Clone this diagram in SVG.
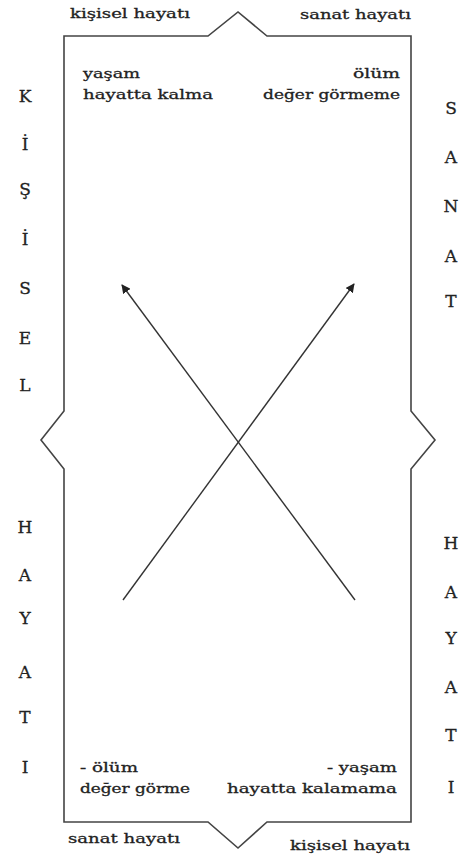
<svg xmlns="http://www.w3.org/2000/svg" width="460" height="862" viewBox="0 0 460 862">
<style>
.t{font-family:"DejaVu Serif","Liberation Serif",serif;font-size:13px;fill:#222;stroke:#222;stroke-width:0.3}
.v{font-family:"DejaVu Serif","Liberation Serif",serif;font-size:17px;fill:#222;stroke:#222;stroke-width:0.3;text-anchor:middle}
.frame{fill:none;stroke:#444;stroke-width:1.6;stroke-linejoin:miter}
.arr{stroke:#333;stroke-width:1.4;fill:none}
</style>
<defs>
<marker id="ah" viewBox="0 0 10 10" refX="9" refY="5" markerWidth="9" markerHeight="9" markerUnits="userSpaceOnUse" orient="auto">
<path d="M0,0 L10,5 L0,10 z" fill="#222"/>
</marker>
</defs>
<rect width="460" height="862" fill="#fff"/>
<g id="frame">
<path class="frame" d="M64,36 L208,36 L238,12 L267,36 L411,36 L411,411 L435,440 L411,469 L411,822 L267,822 L238,848 L208,822 L64,822 L64,469 L41,440 L64,411 Z"/>
</g>
<g id="top-labels">
<text class="t" x="70" y="18" textLength="120" lengthAdjust="spacingAndGlyphs">kişisel hayatı</text>
<text class="t" x="300" y="19" textLength="111" lengthAdjust="spacingAndGlyphs">sanat hayatı</text>
</g>
<g id="top-left-text">
<text class="t" x="83" y="78" textLength="57" lengthAdjust="spacingAndGlyphs">yaşam</text>
<text class="t" x="83" y="99" textLength="130" lengthAdjust="spacingAndGlyphs">hayatta kalma</text>
</g>
<g id="top-right-text">
<text class="t" x="353" y="78" textLength="47" lengthAdjust="spacingAndGlyphs">ölüm</text>
<text class="t" x="263" y="99" textLength="137" lengthAdjust="spacingAndGlyphs">değer görmeme</text>
</g>
<g id="bottom-left-text">
<text class="t" x="80" y="772" textLength="58" lengthAdjust="spacingAndGlyphs">- ölüm</text>
<text class="t" x="80" y="793" textLength="110" lengthAdjust="spacingAndGlyphs">değer görme</text>
</g>
<g id="bottom-right-text">
<text class="t" x="327" y="772" textLength="70" lengthAdjust="spacingAndGlyphs">- yaşam</text>
<text class="t" x="227" y="793" textLength="170" lengthAdjust="spacingAndGlyphs">hayatta kalamama</text>
</g>
<g id="bottom-labels">
<text class="t" x="68" y="843" textLength="112" lengthAdjust="spacingAndGlyphs">sanat hayatı</text>
<text class="t" x="290" y="850" textLength="120" lengthAdjust="spacingAndGlyphs">kişisel hayatı</text>
</g>
<g id="left-kisisel">
<text class="v" x="25" y="102">K</text>
<text class="v" x="25" y="150">İ</text>
<text class="v" x="25" y="195">Ş</text>
<text class="v" x="25" y="245">İ</text>
<text class="v" x="25" y="294">S</text>
<text class="v" x="25" y="344">E</text>
<text class="v" x="25" y="391">L</text>
</g>
<g id="right-sanat">
<text class="v" x="451" y="114">S</text>
<text class="v" x="451" y="163">A</text>
<text class="v" x="451" y="212">N</text>
<text class="v" x="451" y="262">A</text>
<text class="v" x="451" y="307">T</text>
</g>
<g id="left-hayati">
<text class="v" x="25" y="533">H</text>
<text class="v" x="25" y="581">A</text>
<text class="v" x="25" y="624">Y</text>
<text class="v" x="25" y="678">A</text>
<text class="v" x="25" y="723">T</text>
<text class="v" x="25" y="773">I</text>
</g>
<g id="right-hayati">
<text class="v" x="451" y="549">H</text>
<text class="v" x="451" y="598">A</text>
<text class="v" x="451" y="644">Y</text>
<text class="v" x="451" y="693">A</text>
<text class="v" x="451" y="741">T</text>
<text class="v" x="451" y="793">I</text>
</g>
<g id="connectors">
<line class="arr" x1="123" y1="600" x2="354" y2="284" marker-end="url(#ah)"/>
<line class="arr" x1="355" y1="600" x2="122" y2="285" marker-end="url(#ah)"/>
</g>
</svg>
